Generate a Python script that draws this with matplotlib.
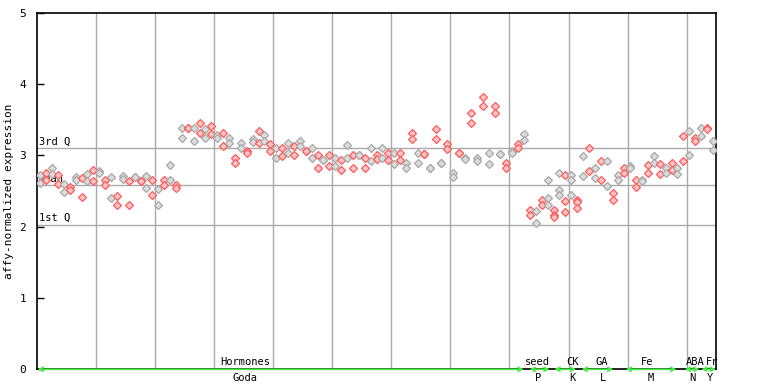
import numpy as np
import matplotlib
matplotlib.use('Agg')
import matplotlib.pyplot as plt

# expression per sample (replicates)
rep1 = [2.72, 2.75, 2.82, 2.73, 2.60, 2.55, 2.69, 2.68, 2.74, 2.79,
        2.78, 2.65, 2.69, 2.43, 2.71, 2.64, 2.69, 2.64, 2.71, 2.65,
        2.53, 2.65, 2.86, 2.59, 3.39, 3.39, 3.39, 3.46, 3.37, 3.41,
        3.29, 3.32, 3.24, 2.96, 3.17, 3.06, 3.23, 3.34, 3.28, 3.16,
        3.10, 3.11, 3.17, 3.13, 3.20, 3.06, 3.11, 3.00, 2.93, 3.00,
        2.97, 2.93, 3.14, 3.00, 3.01, 2.97, 3.11, 3.00, 3.11, 3.03,
        3.03, 3.04, 2.90, 3.32, 3.03, 3.02, 2.83, 3.37, 2.89, 3.16,
        2.75, 3.04, 2.97, 3.59, 2.97, 3.82, 3.04, 3.69, 3.02, 2.90,
        3.06, 3.16, 3.30, 2.24, 2.22, 2.38, 2.65, 2.23, 2.75, 2.72,
        2.72, 2.37, 2.99, 3.11, 2.82, 2.92, 2.92, 2.47, 2.72, 2.83,
        2.85, 2.65, 2.66, 2.86, 2.99, 2.88, 2.83, 2.90, 2.82, 3.27,
        3.34, 3.25, 3.38, 3.39, 3.20]
rep2 = [2.61, 2.66, 2.74, 2.60, 2.48, 2.52, 2.66, 2.41, 2.64, 2.64,
        2.75, 2.59, 2.40, 2.31, 2.67, 2.31, 2.69, 2.64, 2.54, 2.45,
        2.30, 2.59, 2.65, 2.54, 3.25, 3.39, 3.20, 3.31, 3.25, 3.30,
        3.25, 3.13, 3.17, 2.89, 3.11, 3.03, 3.19, 3.17, 3.20, 3.06,
        2.97, 2.99, 3.04, 3.00, 3.13, 3.06, 2.97, 2.83, 2.93, 2.85,
        2.85, 2.79, 2.96, 2.82, 3.01, 2.82, 2.92, 2.95, 2.96, 2.93,
        2.88, 2.93, 2.82, 3.23, 2.89, 3.02, 2.83, 3.23, 2.89, 3.09,
        2.69, 3.04, 2.95, 3.46, 2.92, 3.69, 2.88, 3.59, 3.02, 2.82,
        3.03, 3.10, 3.21, 2.16, 2.05, 2.30, 2.40, 2.16, 2.51, 2.36,
        2.65, 2.34, 2.71, 2.78, 2.68, 2.66, 2.57, 2.38, 2.65, 2.76,
        2.82, 2.55, 2.64, 2.75, 2.90, 2.74, 2.75, 2.79, 2.74, 2.92,
        3.00, 3.20, 3.27, 3.37, 3.07]
# third replicate only for samples 86-91
rep3_idx = [86, 87, 88, 89, 90, 91]
rep3 = [2.30, 2.13, 2.45, 2.20, 2.44, 2.26]

q3, mean, q1 = 3.10, 2.585, 2.03

groups = ['Hormones', 'seed', 'CK', 'GA', 'Fe', 'ABA', 'Fr']
series = ['Goda', 'P', 'K', 'L', 'M', 'N', 'Y']
grp_start = [0, 83.4, 87.6, 92.2, 99.7, 109.7, 112.5]
grp_end = [82.4, 86.8, 91.3, 97.6, 108.3, 112.2, 115]
grp_lab_x = [35.2, 84.7, 90.7, 95.6, 103.4, 111.4, 114.3]
ser_lab_x = [35.2, 84.9, 90.7, 95.8, 103.9, 111.0, 113.9]

n = len(rep1)
xs = np.arange(n) + 0.47

fig = plt.figure(figsize=(7.68, 3.84), dpi=100)
ax = fig.add_axes([0.0488, 0.0383, 0.8835, 0.9284])
mono = 'DejaVu Sans Mono'

for k in range(10, 115, 10):
    ax.axvline(k, color='#aaaaaa', lw=1, zorder=1)
for v in (q3, mean, q1):
    ax.axhline(v, color='#aaaaaa', lw=1, zorder=1)
ax.text(0.2, q3 + 0.02, '3rd Q', family=mono, fontsize=7.5, va='bottom')
ax.text(0.2, mean + 0.02, 'mean', family=mono, fontsize=7.5, va='bottom')
ax.text(0.2, q1 + 0.02, '1st Q', family=mono, fontsize=7.5, va='bottom')

red = ('#ff5a5a', '#ffc4c4')
grey = ('#a8a8a8', '#dcdcdc')
for i in range(n):
    ec, fc = grey if i % 2 == 0 else red
    ax.plot([xs[i], xs[i]], [rep1[i], rep2[i]], 'D', ms=3.8, mec=ec, mfc=fc,
            mew=0.9, ls='none', zorder=3)
for j, i in enumerate(rep3_idx):
    ec, fc = grey if i % 2 == 0 else red
    ax.plot(xs[i], rep3[j], 'D', ms=3.8, mec=ec, mfc=fc, mew=0.9, zorder=3)

ax.set_xlim(0, 115)
ax.set_ylim(0, 5)
ax.set_xticks([])
ax.set_yticks(range(6))
ax.set_yticklabels([str(t) for t in range(6)], family=mono, fontsize=8)
ax.tick_params(axis='y', direction='in', length=5, pad=8, width=1)
for s in ax.spines.values():
    s.set_linewidth(1.2)
ax.set_ylabel('affy-normalized expression', family=mono, fontsize=8, labelpad=4)

green = '#44ee44'
for g in range(len(groups)):
    ax.annotate('', xy=(grp_end[g], 0), xytext=(grp_start[g], 0),
                arrowprops=dict(arrowstyle='<->', color=green, lw=1.2,
                                shrinkA=0, shrinkB=0, mutation_scale=7),
                annotation_clip=False, zorder=5)
    ax.annotate(groups[g], xy=(grp_lab_x[g], 0), xytext=(0, 1.5),
                textcoords='offset points', ha='center', va='bottom',
                family=mono, fontsize=7.5, annotation_clip=False)
    ax.annotate(series[g], xy=(ser_lab_x[g], 0), xytext=(0, -2.5),
                textcoords='offset points', ha='center', va='top',
                family=mono, fontsize=7.5, annotation_clip=False)

fig.savefig('out.png', dpi=100)
